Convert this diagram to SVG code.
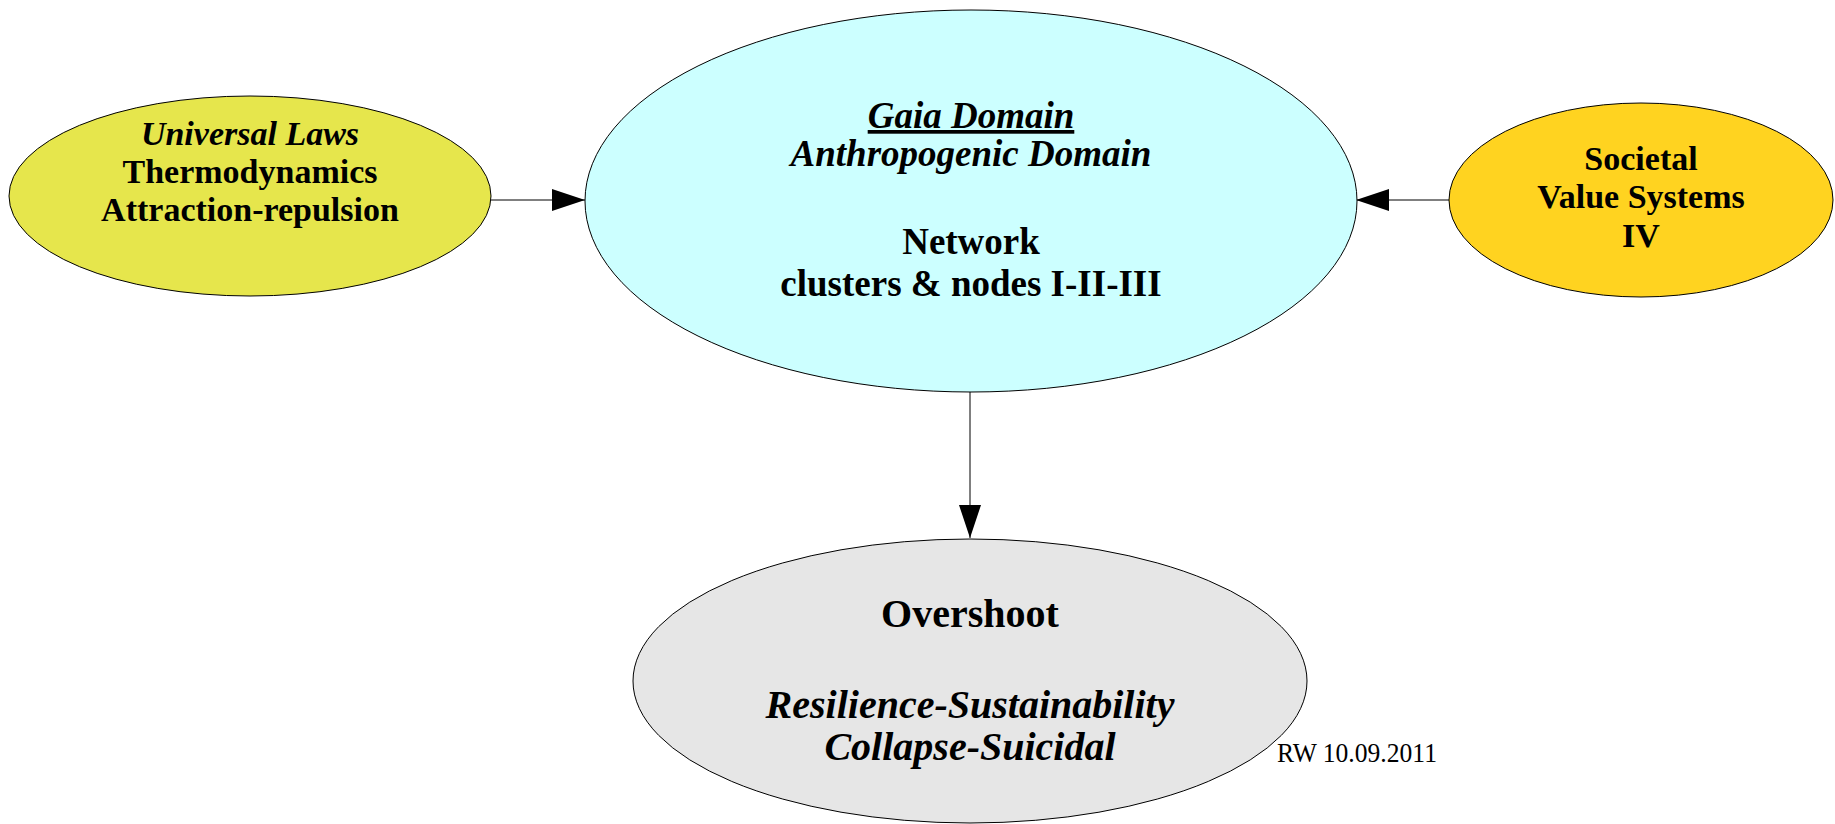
<svg xmlns="http://www.w3.org/2000/svg" width="1835" height="824" viewBox="0 0 1835 824">
<style>
.n{stroke:#000;stroke-width:1}
.t{font-family:"Liberation Serif",serif;font-weight:bold;text-anchor:middle;fill:#000}
.i{font-style:italic}
.c{stroke:#000;stroke-width:1;fill:none}
</style>
<defs>
<marker id="ah" viewBox="0 0 33 22" refX="33" refY="11" markerWidth="33" markerHeight="22" markerUnits="userSpaceOnUse" orient="auto">
<path d="M0,0 L33,11 L0,22 Z" fill="#000"/>
</marker>
</defs>
<rect width="1835" height="824" fill="#fff"/>
<g id="connectors">
<line class="c" x1="491" y1="200" x2="585" y2="200" marker-end="url(#ah)"/>
<line class="c" x1="1449" y1="200" x2="1356" y2="200" marker-end="url(#ah)"/>
<line class="c" x1="970" y1="392" x2="970" y2="538" marker-end="url(#ah)"/>
</g>
<g id="universal">
<ellipse class="n" cx="250" cy="196" rx="241" ry="100" fill="#e6e64c"/>
<text class="t" font-size="34"><tspan class="i" x="250" y="145">Universal Laws</tspan><tspan x="250" y="183">Thermodynamics</tspan><tspan x="250" y="221">Attraction-repulsion</tspan></text>
</g>
<g id="gaia">
<ellipse class="n" cx="971" cy="201" rx="386" ry="191" fill="#ccffff"/>
<text class="t" font-size="37"><tspan class="i" x="971" y="128" text-decoration="underline">Gaia Domain</tspan><tspan class="i" x="971" y="166">Anthropogenic Domain</tspan><tspan x="971" y="254">Network</tspan><tspan x="971" y="296">clusters &amp; nodes I-II-III</tspan></text>
</g>
<g id="societal">
<ellipse class="n" cx="1641" cy="200" rx="192" ry="97" fill="#ffd320"/>
<text class="t" font-size="34"><tspan x="1641" y="170">Societal</tspan><tspan x="1641" y="208">Value Systems</tspan><tspan x="1641" y="247">IV</tspan></text>
</g>
<g id="overshoot">
<ellipse class="n" cx="970" cy="681" rx="337" ry="142" fill="#e6e6e6"/>
<text class="t" font-size="40"><tspan x="970" y="627">Overshoot</tspan><tspan class="i" x="970" y="718">Resilience-Sustainability</tspan><tspan class="i" x="970" y="760">Collapse-Suicidal</tspan></text>
</g>
<text transform="translate(1277,762) scale(1,1.1)" x="0" y="0" font-family="'Liberation Serif',serif" font-size="25.6" fill="#000">RW 10.09.2011</text>
</svg>
